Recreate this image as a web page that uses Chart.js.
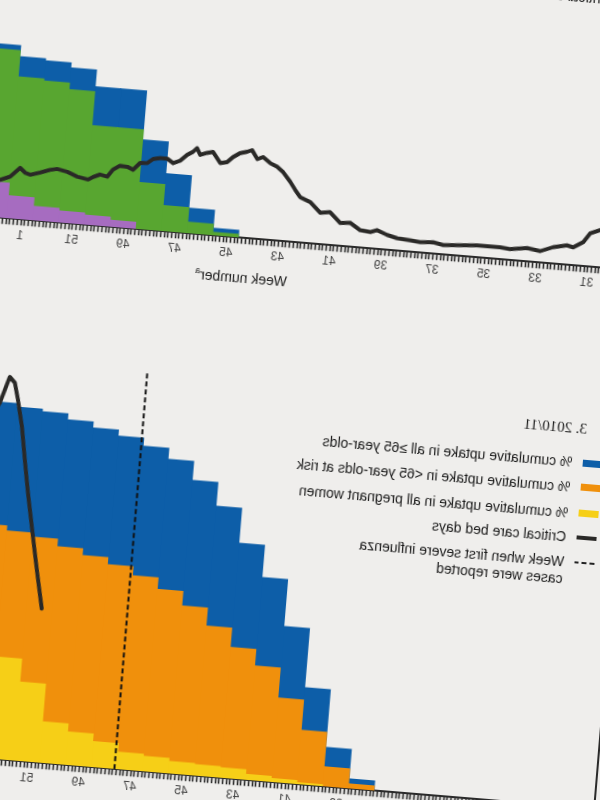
<!DOCTYPE html>
<html>
<head>
<meta charset="utf-8">
<script src="https://cdn.jsdelivr.net/npm/chart.js@4.4.1/dist/chart.umd.min.js"></script>
<style>
  html, body { margin: 0; padding: 0; width: 600px; height: 800px; overflow: hidden; background: #efeeec; }
  /* the reference is a mirrored, slightly tilted photo of the page */
  #sheet { position: absolute; left: 0; top: 0; width: 600px; height: 800px;
           transform-origin: 300px 400px; transform: rotate(4.75deg) scaleX(-1);
           font-family: 'Liberation Sans', Arial, sans-serif; color: #222; }
  canvas { position: absolute; }
  .legend { position: absolute; left: -7.5px; top: 0; font-size: 14px; color: #1a1a1a; }
  .legend .ttl { position: absolute; left: 19px; font-family: 'Liberation Serif', serif; font-size: 15px; line-height: 16px; white-space: nowrap; }
  .legend .row { position: absolute; left: 0; display: flex; align-items: center; white-space: nowrap; line-height: 16px; }
  .legend .row.two { align-items: flex-start; line-height: 16.5px; }
  .sw { width: 20px; height: 7px; margin-right: 11px; flex: none; }
  .sw.line { height: 4px; background: #2a2927; }
  .sw.dash { height: 2px; margin-top: 7px; background: repeating-linear-gradient(to right, #222 0 5px, transparent 5px 8px); }
  .xt { position: absolute; transform: translateX(-50%); font-size: 14px; white-space: nowrap; color: #222; }
  .xt sup { font-size: 9px; }
</style>
</head>
<body>
<div id="sheet">
  <canvas id="top" width="900" height="520" style="left:-80px;top:-200px;width:900px;height:520px"></canvas>
  <canvas id="bottom" width="900" height="520" style="left:-80px;top:330px;width:900px;height:520px"></canvas>

  <div class="legend">
    <div class="ttl" style="top:-139px">2. 2009/10</div>
    <div class="row" style="top:-106.5px"><span class="sw" style="background:#0d5ea8"></span>% cumulative uptake in &lt;65 year-olds at risk</div>
    <div class="row" style="top:-82px"><span class="sw" style="background:#58a630"></span>% cumulative uptake in all pregnant women</div>
    <div class="row" style="top:-57.5px"><span class="sw" style="background:#a66cc0"></span>% cumulative uptake in children aged 6 months to &lt;5 years</div>
    <div class="row" style="top:-33px"><span class="sw line"></span>Critical care bed days</div>

    <div class="ttl" style="top:397px">3. 2010/11</div>
    <div class="row" style="top:431px"><span class="sw" style="background:#0d5ea8"></span>% cumulative uptake in all &ge;65 year-olds</div>
    <div class="row" style="top:455.5px"><span class="sw" style="background:#f0900c"></span>% cumulative uptake in &lt;65 year-olds at risk</div>
    <div class="row" style="top:481.5px"><span class="sw" style="background:#f6cf17"></span>% cumulative uptake in all pregnant women</div>
    <div class="row" style="top:506px"><span class="sw line"></span>Critical care bed days</div>
    <div class="row two" style="top:531px"><span class="sw dash"></span><span>Week when first severe influenza<br>cases were reported</span></div>
  </div>

  <div class="xt" style="left:369px;top:274px">Week number<sup>a</sup></div>
  <div class="xt" style="left:369px;top:813px">Week number<sup>a</sup></div>
</div>

<script>
// x axis in days, day 0 = week 31 label
const axisMinDay = -14;
const axisMaxDay = 203;

// 2009/10 panel: weekly cumulative uptake (%)
const uptakeWeeks0910 = [45, 46, 47, 48, 49, 50, 51, 52, 1, 2];
const atRisk0910   = [1.5, 5.1, 11.6, 18.0, 27.8, 27.8, 31.2, 32.2, 32.6, 34.8];
const pregnant0910 = [0.7, 2.3, 5.2, 9.4, 20.0, 20.0, 26.8, 28.1, 28.5, 33.8];
const under5s0910  = [null, null, null, null, 1.4, 2.0, 2.4, 2.9, 4.6, 7.1];

// 2009/10 critical care bed days (daily)
const ccDays0910 = [-8, -5, -2.5, 0.1, 1.8, 4.4, 6.1, 9.8, 13.2, 16.8, 21.4, 24.1, 30.4, 35.8, 39.5,
  42.3, 45.8, 48.5, 52.1, 54.9, 57.7, 59.5, 62.3, 65.1, 67.8, 70.8, 73.4, 76.4, 79.2, 80.7, 82.2,
  84.3, 86.1, 88.0, 90.1, 91.6, 93.2, 94.5, 96.4, 98.2, 99.7, 101.5, 103.7, 105.3, 107.1, 108.1,
  109.1, 110.6, 112.4, 114.2, 115.9, 117.8, 119.7, 121.2, 123.1, 124.9, 126.5, 128.5, 130.3, 131.7,
  133.7, 135.5, 136.8, 139.8, 142.6, 145.4, 147.3, 149.9, 152.5, 153.9, 155.4, 157.9, 160.5, 163];
const ccBeds0910 = [90, 82, 75, 67, 48, 36, 39, 33, 23, 27, 22, 24, 24, 21, 19,
  23, 21, 23, 25, 30, 38, 33, 35, 48, 46, 66, 63, 83, 91, 105, 120,
  138, 148, 154, 165, 160, 177, 173, 169, 160, 149, 146, 167, 164, 159, 172,
  164, 157, 144, 138, 146, 146, 143, 134, 133, 118, 123, 124, 115, 100,
  103, 97, 91, 95, 103, 107, 104, 97, 91, 94, 103, 84, 76, 72];

// 2010/11 panel: weekly cumulative uptake (%)
const uptakeWeeks1011 = [38, 39, 40, 41, 42, 43, 44, 45, 46, 47, 48, 49, 50, 51, 52, 1];
const over65_1011   = [2.0, 7.9, 19.5, 31.4, 40.8, 47.3, 54.3, 59.1, 62.9, 65.1, 66.7, 67.9, 69.1, 70.3, 70.8, 71.5];
const atRisk1011    = [1.0, 4.0, 10.9, 17.0, 23.0, 26.3, 30.2, 33.8, 36.7, 39.0, 40.8, 42.2, 43.6, 45.1, 45.9, 46.9];
const pregnant1011  = [null, null, 0.4, 0.8, 1.2, 2.1, 2.3, 2.5, 3.1, 3.5, 5.2, 6.7, 8.3, 15.9, 20.5, 23.5];

// 2010/11 critical care bed days (daily)
const ccDays1011 = [139.7, 141.5, 142.8, 144.2, 146.0, 147.6, 149.1, 150.8, 152.0, 153.5, 155.6, 158, 161];
const ccBeds1011 = [309, 372, 419, 471, 538, 604, 669, 723, 756, 767, 714, 680, 650];
const firstSevereDay1011 = 116.5;

const BLUE = '#0d5ea8', ORANGE = '#f0900c', YELLOW = '#f6cf17';
const GREEN = '#58a630', PURPLE = '#a66cc0', INK = '#2a2927';

const PAD_LEFT = 52.5, PAD_RIGHT = 46.1, CANVAS_W = 900;
// one week of the axis, in pixels (bars are weekly)
const weekPx = 7 * (CANVAS_W - PAD_LEFT - PAD_RIGHT) / (axisMaxDay - axisMinDay);

Chart.defaults.font.family = "'Liberation Sans', Arial, sans-serif";

function weekToDay(w) {
    const t = w >= 31 ? w - 31 : w + 21;
    return t * 7 + 0.5;
}

function weekLabel(day) {
    if (day % 14 !== 0) return '';
    let w = 31 + day / 7;
    if (w > 52) w -= 52;
    return String(w);
}

function bars(label, weeks, values, color, order) {
    return {
        type: 'bar',
        label: label,
        data: weeks.map((w, i) => ({ x: weekToDay(w), y: values[i] })),
        backgroundColor: color,
        borderWidth: 0,
        grouped: false,
        barThickness: weekPx + 0.4,
        order: order,
    };
}

function ccLine(days, beds) {
    return {
        type: 'line',
        label: 'Critical care bed days',
        data: days.map((d, i) => ({ x: d, y: beds[i] })),
        yAxisID: 'y1',
        borderColor: INK,
        borderWidth: 4,
        borderJoinStyle: 'round',
        borderCapStyle: 'round',
        pointRadius: 0,
        tension: 0,
        order: 0,
    };
}

function makeChart(id, datasets, padTop, padBottom) {
    return new Chart(document.getElementById(id), {
        type: 'bar',
        data: { datasets: datasets },
        options: {
            responsive: false,
            animation: false,
            devicePixelRatio: 1,
            layout: { padding: { left: PAD_LEFT, right: PAD_RIGHT, top: padTop, bottom: padBottom } },
            plugins: { legend: { display: false }, tooltip: { enabled: false }, title: { display: false } },
            scales: {
                x: {
                    type: 'linear',
                    min: axisMinDay,
                    max: axisMaxDay,
                    offset: false,
                    grid: { offset: false, drawOnChartArea: false, drawTicks: true, tickLength: 6, tickWidth: 1.6, tickColor: '#2a2a2a' },
                    border: { display: true, color: '#2a2a2a', width: 2 },
                    ticks: {
                        stepSize: 1,
                        autoSkip: false,
                        maxRotation: 0,
                        minRotation: 0,
                        padding: 3,
                        color: '#444',
                        font: { size: 12 },
                        callback: (v) => weekLabel(v),
                    },
                    afterFit: (s) => { s.height = 40; },
                },
                y: {
                    min: 0,
                    max: 80,
                    ticks: { display: false },
                    grid: { drawOnChartArea: false, drawTicks: false },
                    border: { display: true, color: '#2a2a2a', width: 2 },
                    afterFit: (s) => { s.width = 0; },
                },
                y1: { display: false, min: 0, max: 800 },
            },
        },
    });
}

makeChart('top', [
    ccLine(ccDays0910, ccBeds0910),
    bars('under 5s', uptakeWeeks0910, under5s0910, PURPLE, 1),
    bars('pregnant women', uptakeWeeks0910, pregnant0910, GREEN, 2),
    bars('<65 at risk', uptakeWeeks0910, atRisk0910, BLUE, 3),
], 44.6, 36.8);

makeChart('bottom', [
    ccLine(ccDays1011, ccBeds1011),
    {
        type: 'line',
        label: 'Week when first severe influenza cases were reported',
        data: [{ x: firstSevereDay1011, y: 0 }, { x: firstSevereDay1011, y: 80 }],
        borderColor: '#111',
        borderWidth: 2,
        borderDash: [5, 3],
        pointRadius: 0,
        order: 1,
    },
    bars('pregnant women', uptakeWeeks1011, pregnant1011, YELLOW, 2),
    bars('<65 at risk', uptakeWeeks1011, atRisk1011, ORANGE, 3),
    bars('>=65', uptakeWeeks1011, over65_1011, BLUE, 4),
], 54.6, 26.8);
</script>
</body>
</html>
